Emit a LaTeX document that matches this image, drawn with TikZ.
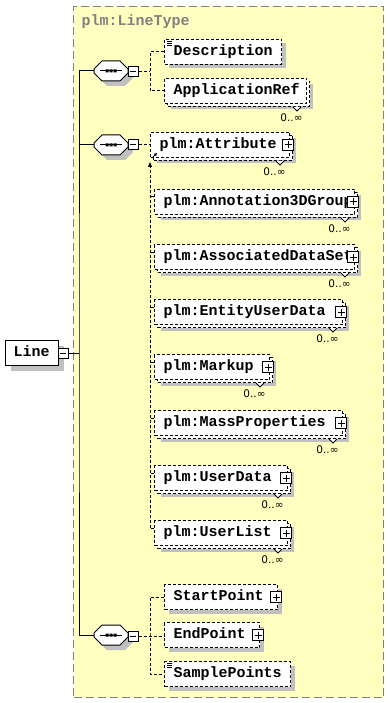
\documentclass[tikz,border=0pt]{standalone}
\usepackage{fontspec}
\usepackage{xcolor}
\usepackage{tikz}
\usetikzlibrary{arrows.meta,positioning,shapes.misc,shadows}

\newfontfamily\elemfont{Liberation Mono}[HyphenChar=None]
\newfontfamily\occfont{DejaVu Sans}
\definecolor{schemaback}{HTML}{FFFFC0}
\definecolor{shadowgray}{HTML}{C0C0C0}
\definecolor{framegray}{HTML}{808080}

\begin{document}
\begin{tikzpicture}[
    x=1pt, y=-1pt, line width=1pt,
    elem/.style={draw=black, dash pattern=on 3pt off 2pt, fill=white, anchor=north west, align=left,
        font=\elemfont\bfseries\fontsize{15}{15}\selectfont,
        minimum height=25pt, inner xsep=9pt, inner ysep=0pt, text height=10pt, text depth=3pt},
    single/.style={drop shadow={shadow xshift=4pt, shadow yshift=-4pt, fill=shadowgray, opacity=1}},
    multi/.style={drop shadow={shadow xshift=6pt, shadow yshift=-6pt, fill=shadowgray, opacity=1},
        copy shadow={shadow xshift=3pt, shadow yshift=-3pt, draw=black, dash pattern=on 3pt off 2pt, fill=white}},
    docmark/.style={path picture={
        \draw[solid, line width=0.8pt] ([shift={(2pt,-2pt)}]path picture bounding box.north west) -- ++(5pt,0pt)
            ([shift={(2pt,-4pt)}]path picture bounding box.north west) -- ++(5pt,0pt)
            ([shift={(2pt,-6pt)}]path picture bounding box.north west) -- ++(5pt,0pt);}},
    rootbox/.style={draw=black, fill=white, anchor=north west, align=left,
        font=\elemfont\bfseries\fontsize{15}{15}\selectfont,
        minimum height=25pt, inner xsep=8pt, inner ysep=0pt, text height=10pt, text depth=3pt,
        drop shadow={shadow xshift=5pt, shadow yshift=-5pt, fill=shadowgray, opacity=1}},
    seqbox/.style={chamfered rectangle, chamfered rectangle xsep=4pt, chamfered rectangle ysep=4pt,
        draw=black, fill=white, text width=26pt, text height=12pt, text depth=0pt, inner sep=0pt,
        drop shadow={shadow xshift=5pt, shadow yshift=-5pt, fill=shadowgray, opacity=1},
        path picture={
            \draw[black] ([xshift=-11pt]path picture bounding box.center) -- ([xshift=11pt]path picture bounding box.center);
            \fill[black] ([shift={(-5.5pt,-1.5pt)}]path picture bounding box.center) rectangle ++(3pt,3pt)
                  ([shift={(-1.5pt,-1.5pt)}]path picture bounding box.center) rectangle ++(3pt,3pt)
                  ([shift={(2.5pt,-1.5pt)}]path picture bounding box.center) rectangle ++(3pt,3pt);}},
    minusbox/.style={draw=black, solid, fill=white, minimum size=10pt, inner sep=0pt,
        path picture={\draw ([xshift=2pt]path picture bounding box.west) -- ([xshift=-2pt]path picture bounding box.east);}},
    plusbox/.style={draw=black, solid, fill=white, minimum size=11pt, inner sep=0pt,
        path picture={\draw ([xshift=2pt]path picture bounding box.west) -- ([xshift=-2pt]path picture bounding box.east);
            \draw ([yshift=-2pt]path picture bounding box.north) -- ([yshift=2pt]path picture bounding box.south);}},
    notch/.style={draw=black, solid, fill=white, line width=0.8pt},
    occ/.style={font=\occfont\fontsize{10.5}{10.5}\selectfont, inner sep=0pt, anchor=north east},
    link/.style={dash pattern=on 3pt off 2pt},
    typename/.style={text=framegray, font=\elemfont\bfseries\fontsize{15}{15}\selectfont, inner sep=0pt}
]
\useasboundingbox (0,0) rectangle (389,703);

% complex type frame
\node[draw=framegray, dash pattern=on 8pt off 4pt, fill=schemaback, anchor=north west,
      minimum width=310pt, minimum height=691pt, inner sep=0pt] (frame) at (73,6) {};
\node[typename, anchor=base west] (linetype) at (81,26) {plm:LineType};

% root element
\node[rootbox, text width=37pt] (line) at (5,340) {Line};
\node[minusbox] (lineM) at (63,353) {};

% sequences
\node[seqbox] (seqA) at (111,71) {};
\node[minusbox] (seqAM) at (133,72) {};
\node[seqbox] (seqB) at (111,145) {};
\node[minusbox] (seqBM) at (133,145) {};
\node[seqbox] (seqC) at (111,635) {};
\node[minusbox] (seqCM) at (133,636) {};

% first sequence
\node[elem, single, docmark, text width=99pt] (desc) at (164,39) {Description};
\node[elem, multi, text width=124pt] (appref) at (164,78) {ApplicationRef};

% second sequence
\node[elem, multi, text width=121pt] (attr) at (150,132) {plm:Attribute};
\node[elem, multi, text width=182pt] (annot) at (154,189) {plm:Annotation3DGroup};
\node[elem, multi, text width=182pt] (assoc) at (154,244) {plm:AssociatedDataSet};
\node[elem, multi, text width=170pt] (entity) at (154,299) {plm:EntityUserData};
\node[elem, multi, text width=97pt] (markup) at (154,354) {plm:Markup};
\node[elem, multi, text width=170pt] (mass) at (154,410) {plm:MassProperties};
\node[elem, multi, text width=115pt] (userdata) at (154,465) {plm:UserData};
\node[elem, multi, text width=115pt] (userlist) at (154,520) {plm:UserList};

% third sequence
\node[elem, single, text width=95pt] (start) at (164,584) {StartPoint};
\node[elem, single, text width=77pt] (end) at (164,622) {EndPoint};
\node[elem, single, docmark, text width=108pt] (sample) at (164,661) {SamplePoints};

% expand boxes
\foreach \n in {attr,annot,assoc,entity,markup,mass,userdata,userlist,start,end}
    \node[plusbox] (\n-plus) at ([xshift=-2pt]\n.east) {};

% occurrences
\foreach \n in {appref,attr,annot,assoc,entity,markup,mass,userdata,userlist} {
    \draw[notch] ([xshift=-14pt,yshift=-3pt]\n.south east) -- ++(4pt,-4pt) -- ++(4pt,4pt);
    \node[occ] (\n-occ) at ([shift={(-4pt,-9pt)}]\n.south east) {0..∞};
}

% connectors
\coordinate (trunk) at (79,353);
\draw (lineM.east) -- (trunk);
\draw (seqA.west) -| (trunk) |- (seqC.west);
\draw (seqB.west) -- (seqB.west -| trunk);

\coordinate (brA) at (150,72);
\draw[link] (seqAM.east) -- (brA);
\draw[link] (desc.west) -| (brA) |- (appref.west);

\draw[link] (seqBM.east) -- (attr.west);
\draw[link, -{Triangle[length=5pt,width=4pt]}] ([shift={(-4pt,-8pt)}]userlist.north west) -- ([yshift=-4pt]attr.south west);
\foreach \n in {annot,assoc,entity,markup,mass,userdata,userlist}
    \draw[link] ([yshift=-8pt]\n.north west) -- ++(-4pt,0pt);
\draw[solid, line width=0.8pt, -{Triangle[length=3pt,width=3pt]}] ([shift={(3pt,1pt)}]attr.south west) -- ++(4pt,4pt);

\coordinate (brC) at (150,635);
\draw[link] (seqCM.east) -- (seqCM.east -| end.west);
\draw[link] (start.west) -| (brC) |- (sample.west);
\end{tikzpicture}
\end{document}
